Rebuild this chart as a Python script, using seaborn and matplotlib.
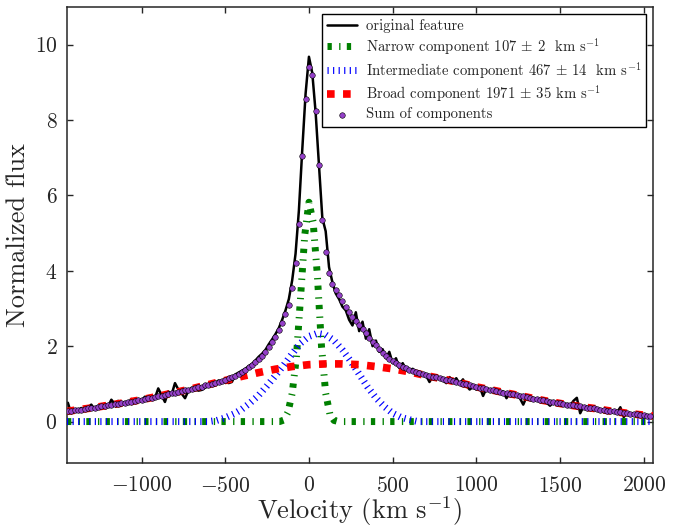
import numpy as np
import seaborn as sns
import matplotlib
matplotlib.use("Agg")
import matplotlib.pyplot as plt

# velocity grid of the observed profile and of the summed fit (km/s)
vel = np.arange(-1440, 2041, 20)

orig_flux = [
    0.50, 0.22, 0.33, 0.28, 0.36, 0.30, 0.37, 0.45, 0.33, 0.42,
    0.37, 0.48, 0.40, 0.58, 0.47, 0.55, 0.44, 0.52, 0.49, 0.60,
    0.52, 0.60, 0.55, 0.66, 0.58, 0.67, 0.62, 0.88, 0.70, 0.52,
    0.80, 0.72, 1.02, 0.85, 0.74, 0.62, 0.82, 0.90, 0.86, 0.82,
    0.84, 0.90, 0.97, 1.06, 1.02, 1.09, 1.04, 1.07, 1.02, 1.05,
    1.25, 1.30, 1.35, 1.40, 1.47, 1.53, 1.62, 1.72, 1.80, 1.90,
    2.05, 2.18, 2.32, 2.48, 2.70, 2.95, 3.25, 3.75, 4.45, 5.60,
    7.20, 8.70, 9.68, 9.25, 8.20, 6.80, 5.40, 5.05, 4.10, 3.70,
    3.40, 3.25, 3.05, 2.95, 2.70, 2.55, 2.90, 2.40, 2.65, 2.20,
    2.45, 2.00, 2.15, 1.85, 1.92, 1.68, 1.85, 1.55, 1.68, 1.42,
    1.55, 1.38, 1.35, 1.40, 1.30, 1.32, 1.25, 1.22, 1.05, 1.20,
    1.15, 1.18, 1.10, 1.02, 1.18, 1.05, 1.15, 1.00, 1.12, 0.95,
    0.85, 0.92, 0.85, 0.92, 0.68, 0.88, 0.85, 0.80, 0.83, 0.76,
    0.80, 0.62, 0.76, 0.74, 0.72, 0.62, 0.45, 0.66, 0.62, 0.63,
    0.58, 0.56, 0.60, 0.50, 0.42, 0.52, 0.49, 0.50, 0.45, 0.47,
    0.42, 0.55, 0.63, 0.22, 0.40, 0.39, 0.35, 0.36, 0.31, 0.33,
    0.30, 0.31, 0.27, 0.29, 0.24, 0.38, 0.12, 0.23, 0.20, 0.22,
    0.18, 0.20, 0.15, 0.17, 0.14,
]

sum_flux = [
    0.28, 0.29, 0.30, 0.31, 0.32, 0.33, 0.35, 0.36, 0.37, 0.39,
    0.40, 0.41, 0.43, 0.44, 0.46, 0.47, 0.49, 0.50, 0.52, 0.53,
    0.55, 0.56, 0.58, 0.60, 0.62, 0.63, 0.65, 0.67, 0.69, 0.71,
    0.73, 0.75, 0.77, 0.79, 0.81, 0.83, 0.85, 0.87, 0.89, 0.91,
    0.93, 0.96, 0.98, 1.00, 1.03, 1.05, 1.08, 1.11, 1.15, 1.18,
    1.22, 1.27, 1.32, 1.38, 1.44, 1.51, 1.58, 1.66, 1.75, 1.85,
    1.97, 2.10, 2.25, 2.42, 2.62, 2.85, 3.10, 3.55, 4.20, 5.25,
    7.05, 8.55, 9.42, 9.20, 8.25, 6.80, 5.35, 4.50, 3.93, 3.64,
    3.48, 3.36, 3.20, 3.05, 2.91, 2.78, 2.66, 2.56, 2.45, 2.34,
    2.22, 2.12, 2.02, 1.92, 1.81, 1.74, 1.67, 1.61, 1.55, 1.50,
    1.45, 1.41, 1.38, 1.35, 1.32, 1.29, 1.26, 1.24, 1.22, 1.19,
    1.17, 1.15, 1.13, 1.11, 1.09, 1.07, 1.05, 1.03, 1.01, 0.99,
    0.97, 0.95, 0.92, 0.90, 0.88, 0.86, 0.84, 0.83, 0.81, 0.79,
    0.77, 0.75, 0.74, 0.72, 0.70, 0.68, 0.67, 0.65, 0.63, 0.61,
    0.60, 0.58, 0.56, 0.54, 0.53, 0.51, 0.50, 0.48, 0.47, 0.45,
    0.44, 0.43, 0.41, 0.40, 0.39, 0.37, 0.36, 0.35, 0.33, 0.32,
    0.31, 0.29, 0.28, 0.27, 0.26, 0.25, 0.23, 0.22, 0.21, 0.20,
    0.19, 0.18, 0.17, 0.16, 0.15,
]

# narrow component
narrow_v = [-1445, -175, -150, -125, -100, -75, -50, -25, 0, 25, 50, 75, 100, 125, 150, 175, 2055]
narrow_f = [0, 0, 0.04, 0.25, 0.75, 1.7, 3.3, 4.95, 5.82, 5.3, 3.9, 2.0, 0.75, 0.2, 0.03, 0, 0]

# intermediate component
inter_v = [-1445, -600, -550, -500, -450, -400, -350, -300, -250, -200, -150, -100, -50, 0,
           50, 100, 150, 200, 250, 300, 350, 400, 450, 500, 550, 600, 650, 2055]
inter_f = [0, 0, 0.03, 0.10, 0.20, 0.33, 0.50, 0.70, 0.95, 1.22, 1.50, 1.80, 2.08, 2.26,
           2.34, 2.30, 2.15, 1.90, 1.60, 1.26, 0.92, 0.63, 0.40, 0.22, 0.11, 0.05, 0, 0]

# broad component
broad_v = [-1445, -1400, -1300, -1200, -1100, -1000, -900, -800, -700, -600, -500, -400,
           -300, -200, -100, 0, 100, 200, 300, 400, 500, 600, 700, 800, 900, 1000,
           1100, 1200, 1300, 1400, 1500, 1600, 1700, 1800, 1900, 2000, 2055]
broad_f = [0.27, 0.30, 0.36, 0.43, 0.50, 0.58, 0.67, 0.77, 0.87, 0.98, 1.09, 1.20,
           1.30, 1.39, 1.46, 1.51, 1.53, 1.53, 1.51, 1.46, 1.40, 1.32, 1.22, 1.13, 1.03, 0.92,
           0.83, 0.74, 0.65, 0.56, 0.48, 0.41, 0.35, 0.28, 0.22, 0.17, 0.15]

labels = [
    "original feature",
    r"Narrow component 107 $\pm$ 2  km s$^{-1}$",
    r"Intermediate component 467 $\pm$ 14  km s$^{-1}$",
    r"Broad component 1971 $\pm$ 35 km s$^{-1}$",
    "Sum of components",
]

sns.set_style("ticks")
plt.rcParams.update({
    "font.family": "serif",
    "font.serif": ["cmr10", "DejaVu Serif"],
    "mathtext.fontset": "cm",
    "axes.formatter.use_mathtext": True,
    "axes.linewidth": 1.1,
})

fig = plt.figure(figsize=(6.85, 5.27), dpi=100)
ax = fig.add_axes([0.0978, 0.1214, 0.8555, 0.8653])

sns.lineplot(x=vel, y=orig_flux, ax=ax, color="black", lw=1.8, label=labels[0], zorder=2)
sns.lineplot(x=narrow_v, y=narrow_f, ax=ax, color="green", lw=5,
             linestyle=(0, (0.62, 1.06, 0.19, 0.91)), label=labels[1], zorder=3)
sns.lineplot(x=inter_v, y=inter_f, ax=ax, color="blue", lw=5,
             linestyle=(0, (0.17, 0.63)), label=labels[2], zorder=3)
sns.lineplot(x=broad_v, y=broad_f, ax=ax, color="red", lw=5.5,
             linestyle=(0, (1.0, 1.1)), label=labels[3], zorder=3)
sns.scatterplot(x=vel, y=sum_flux, ax=ax, color="#9440c8", edgecolor="black",
                linewidth=0.4, s=16, label=labels[4], zorder=4)

ax.set_xlim(-1445, 2055)
ax.set_ylim(-1.1, 11)
ax.set_xticks([-1000, -500, 0, 500, 1000, 1500, 2000])
ax.set_yticks([0, 2, 4, 6, 8, 10])
ax.tick_params(direction="in", top=True, right=True, length=4, width=1,
               labelsize=15.5, pad=7)
ax.tick_params(axis="x", pad=9)
ax.set_xlabel(r"Velocity (km s$^{-1}$)", fontsize=19, labelpad=-1)
ax.set_ylabel("Normalized flux", fontsize=19, labelpad=3)

handles, labs = ax.get_legend_handles_labels()
order = [labs.index(l) for l in labels]
leg = ax.legend([handles[i] for i in order], labels, loc="upper right", fontsize=10.6,
                frameon=True, fancybox=False, edgecolor="black", framealpha=1,
                scatterpoints=1, handlelength=2.0, labelspacing=0.2,
                borderpad=0.35, handletextpad=0.6, borderaxespad=0.45)
leg.get_frame().set_linewidth(1.0)

fig.savefig("out.png", dpi=100)
